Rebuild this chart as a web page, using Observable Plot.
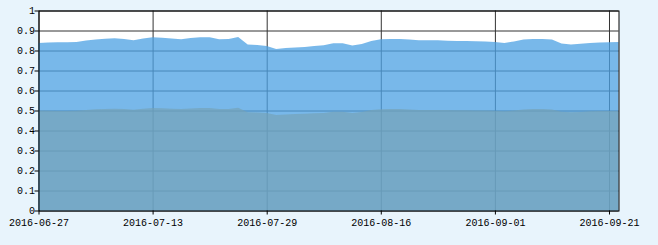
<!DOCTYPE html>
<html>
<head>
<meta charset="utf-8">
<script src="https://cdn.jsdelivr.net/npm/d3@7"></script>
<script src="https://cdn.jsdelivr.net/npm/@observablehq/plot@0.6"></script>
<style>
  html, body { margin: 0; padding: 0; background: #e8f4fc; }
  #chart svg { display: block; }
</style>
</head>
<body>
<div id="chart"></div>
<script>
const dates = [
  "2016-06-27","2016-06-28","2016-06-29","2016-06-30","2016-07-01","2016-07-04","2016-07-05","2016-07-06","2016-07-07","2016-07-08",
  "2016-07-11","2016-07-12","2016-07-13","2016-07-14","2016-07-15","2016-07-18","2016-07-19","2016-07-20","2016-07-21","2016-07-22",
  "2016-07-25","2016-07-26","2016-07-27","2016-07-28","2016-07-29","2016-08-01","2016-08-02","2016-08-03","2016-08-04","2016-08-05",
  "2016-08-08","2016-08-09","2016-08-10","2016-08-11","2016-08-12","2016-08-15","2016-08-16","2016-08-17","2016-08-18","2016-08-19",
  "2016-08-22","2016-08-23","2016-08-24","2016-08-25","2016-08-26","2016-08-29","2016-08-30","2016-08-31","2016-09-01","2016-09-02",
  "2016-09-05","2016-09-06","2016-09-07","2016-09-08","2016-09-09","2016-09-12","2016-09-13","2016-09-14","2016-09-19","2016-09-20",
  "2016-09-21","2016-09-22"
];
const upper = [
  0.838,0.840,0.841,0.841,0.842,0.850,0.855,0.859,0.861,0.858,
  0.851,0.860,0.866,0.864,0.860,0.856,0.862,0.866,0.866,0.856,
  0.858,0.868,0.830,0.828,0.823,0.808,0.812,0.815,0.818,0.822,
  0.826,0.836,0.836,0.825,0.832,0.848,0.856,0.857,0.857,0.855,
  0.851,0.851,0.851,0.849,0.848,0.847,0.846,0.845,0.843,0.838,
  0.845,0.855,0.858,0.857,0.855,0.835,0.830,0.834,0.838,0.840,
  0.841,0.842
];
const lower = [
  0.500,0.499,0.498,0.497,0.499,0.503,0.506,0.508,0.509,0.507,
  0.504,0.509,0.513,0.511,0.509,0.507,0.510,0.512,0.512,0.507,
  0.508,0.514,0.491,0.490,0.487,0.477,0.480,0.482,0.484,0.486,
  0.488,0.494,0.494,0.488,0.492,0.502,0.506,0.507,0.507,0.505,
  0.503,0.503,0.503,0.502,0.501,0.501,0.500,0.500,0.499,0.496,
  0.500,0.505,0.507,0.507,0.505,0.494,0.491,0.493,0.496,0.497,
  0.497,0.498
];
const xTickLabels = ["2016-06-27","2016-07-13","2016-07-29","2016-08-16","2016-09-01","2016-09-21"];
const yTicks = [0,0.1,0.2,0.3,0.4,0.5,0.6,0.7,0.8,0.9,1];

const data = dates.map((d, i) => ({date: d, upper: upper[i], lower: lower[i]}));

const chart = Plot.plot({
  width: 658,
  height: 245,
  marginLeft: 38.5,
  marginRight: 39.5,
  marginTop: 10.5,
  marginBottom: 34.5,
  style: {background: "#e8f4fc", fontFamily: "'Liberation Mono', 'DejaVu Sans Mono', monospace", fontSize: "10px", color: "#000"},
  x: {type: "point", domain: dates, padding: 0},
  y: {domain: [0, 1]},
  marks: [
    Plot.frame({fill: "white"}),
    Plot.gridY(yTicks, {stroke: "#333", strokeOpacity: 1}),
    Plot.gridX(xTickLabels, {stroke: "#333", strokeOpacity: 1}),
    Plot.areaY(data, {x: "date", y: "upper", fill: "rgb(77,162,227)", fillOpacity: 0.76}),
    Plot.areaY(data, {x: "date", y: "lower", fill: "rgb(117,162,182)", fillOpacity: 0.69}),
    Plot.frame({stroke: "black"}),
    Plot.axisX(xTickLabels, {tickSize: 4, tickPadding: 4, label: null, stroke: "black"}),
    Plot.axisY(yTicks, {tickSize: 4, tickPadding: 0, label: null, stroke: "black",
      tickFormat: d => (d === 0 ? "0" : d === 1 ? "1" : d.toFixed(1)), style: {letterSpacing: "1.5px"}})
  ]
});
document.getElementById("chart").appendChild(chart);
</script>
</body>
</html>
